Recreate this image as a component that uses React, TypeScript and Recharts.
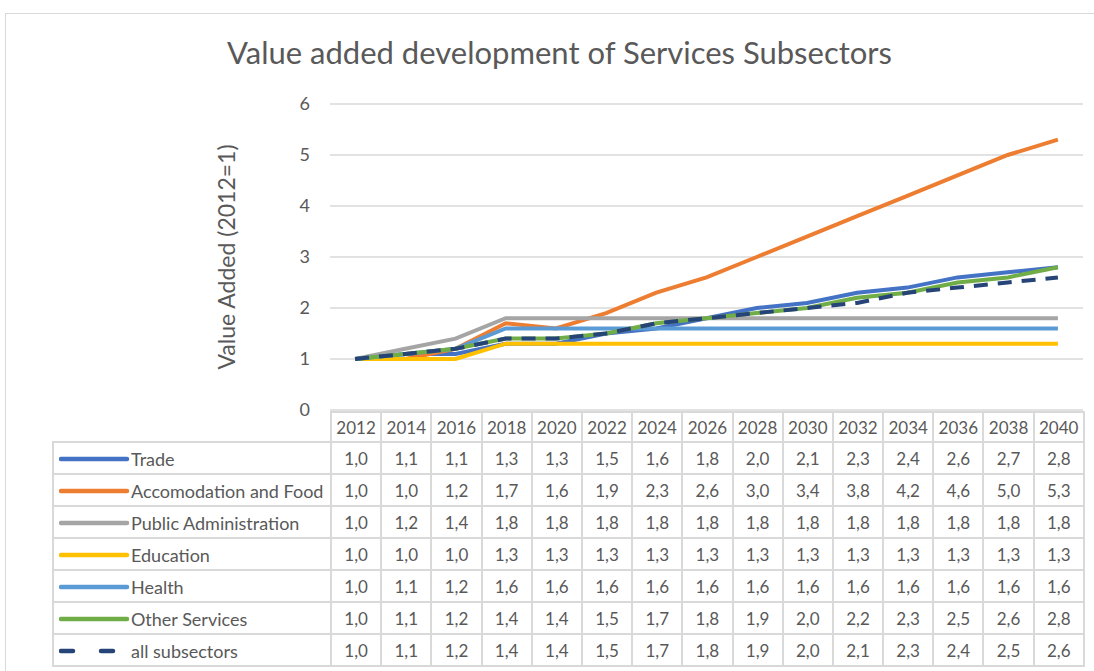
import React from 'react';
import { LineChart, Line, YAxis, XAxis, CartesianGrid } from 'recharts';

const years = ['2012','2014','2016','2018','2020','2022','2024','2026','2028','2030','2032','2034','2036','2038','2040'];
const trade = [1.0,1.1,1.1,1.3,1.3,1.5,1.6,1.8,2.0,2.1,2.3,2.4,2.6,2.7,2.8];
const accomodation = [1.0,1.0,1.2,1.7,1.6,1.9,2.3,2.6,3.0,3.4,3.8,4.2,4.6,5.0,5.3];
const publicAdmin = [1.0,1.2,1.4,1.8,1.8,1.8,1.8,1.8,1.8,1.8,1.8,1.8,1.8,1.8,1.8];
const education = [1.0,1.0,1.0,1.3,1.3,1.3,1.3,1.3,1.3,1.3,1.3,1.3,1.3,1.3,1.3];
const health = [1.0,1.1,1.2,1.6,1.6,1.6,1.6,1.6,1.6,1.6,1.6,1.6,1.6,1.6,1.6];
const otherServices = [1.0,1.1,1.2,1.4,1.4,1.5,1.7,1.8,1.9,2.0,2.2,2.3,2.5,2.6,2.8];
const allSubsectors = [1.0,1.1,1.2,1.4,1.4,1.5,1.7,1.8,1.9,2.0,2.1,2.3,2.4,2.5,2.6];
const yTicks = [0,1,2,3,4,5,6];

const series = [
  { key: 'trade', name: 'Trade', values: trade, color: '#4472C4', dash: undefined as string | undefined },
  { key: 'accom', name: 'Accomodation and Food', values: accomodation, color: '#ED7D31', dash: undefined },
  { key: 'public', name: 'Public Administration', values: publicAdmin, color: '#A5A5A5', dash: undefined },
  { key: 'edu', name: 'Education', values: education, color: '#FFC000', dash: undefined },
  { key: 'health', name: 'Health', values: health, color: '#5B9BD5', dash: undefined },
  { key: 'other', name: 'Other Services', values: otherServices, color: '#70AD47', dash: undefined },
  { key: 'all', name: 'all subsectors', values: allSubsectors, color: '#264478', dash: '14 10' },
];

const data = years.map((y, i) => {
  const row: Record<string, any> = { year: y };
  series.forEach((s) => { row[s.key] = s.values[i]; });
  return row;
});

const FONT = 'Lato, "Open Sans", sans-serif';
const TXT = '#595959';
const GRID = '#D9D9D9';
const fmt = (v: number) => v.toFixed(1).replace('.', ',');

const PLOT_LEFT = 330;
const PLOT_RIGHT = 1083;
const COL_W = (PLOT_RIGHT - PLOT_LEFT) / years.length;

export default function App() {
  return (
    <div style={{ position: 'fixed', left: 0, top: 0, width: 1094, height: 671, background: '#fff', overflow: 'hidden', fontFamily: FONT }}>
      <div style={{ position: 'absolute', left: 5, top: 13, width: 1200, height: 800, border: `1px solid ${GRID}` }} />
      <div style={{ position: 'absolute', left: 0, top: 34, width: 1119, textAlign: 'center', fontSize: 31, lineHeight: 1.2, color: TXT, whiteSpace: 'nowrap' }}>
        Value added development of Services Subsectors
      </div>
      <div style={{ position: 'absolute', left: 226, top: 257, transform: 'translate(-50%, -50%) rotate(-90deg)', whiteSpace: 'nowrap', fontSize: 23, color: TXT }}>
        Value Added (2012=1)
      </div>
      <div style={{ position: 'absolute', left: 0, top: 0 }}>
        <LineChart width={1094} height={430} data={data} margin={{ top: 104, right: 1094 - PLOT_RIGHT, bottom: 20, left: 300 }}>
          <CartesianGrid vertical={false} stroke={GRID} strokeWidth={1.5} />
          <XAxis dataKey="year" hide padding={{ left: COL_W / 2, right: COL_W / 2 }} />
          <YAxis width={30} domain={[0, 6]} ticks={yTicks} axisLine={false} tickLine={false} tickMargin={14}
            tick={{ fill: TXT, fontSize: 18, fontFamily: FONT }} />
          {series.map((s) => (
            <Line key={s.key} dataKey={s.key} name={s.name} type="linear" stroke={s.color} strokeWidth={4}
              strokeDasharray={s.dash} dot={false} isAnimationActive={false} />
          ))}
        </LineChart>
      </div>
      <table style={{ position: 'absolute', left: 52, top: 411, borderCollapse: 'collapse', tableLayout: 'fixed', width: 278 + COL_W * years.length, fontSize: 17, color: TXT }}>
        <colgroup>
          <col style={{ width: 278 }} />
          {years.map((y) => <col key={y} style={{ width: COL_W }} />)}
        </colgroup>
        <tbody>
          <tr style={{ height: 30 }}>
            <td style={{ border: 'none' }} />
            {years.map((y) => (
              <td key={y} style={{ border: `2px solid ${GRID}`, textAlign: 'center', padding: 0 }}>{y}</td>
            ))}
          </tr>
          {series.map((s) => (
            <tr key={s.key} style={{ height: 32 }}>
              <td style={{ border: `2px solid ${GRID}`, padding: 0, whiteSpace: 'nowrap', overflow: 'hidden' }}>
                <svg width={72} height={10} style={{ verticalAlign: 'middle', marginLeft: 5 }}>
                  <line x1={2} y1={5} x2={68} y2={5} stroke={s.color} strokeWidth={4.5} strokeLinecap="round"
                    strokeDasharray={s.dash ? '12 28' : undefined} />
                </svg>
                <span style={{ verticalAlign: 'middle', fontSize: 18 }}>{s.name}</span>
              </td>
              {s.values.map((v, i) => (
                <td key={i} style={{ border: `2px solid ${GRID}`, textAlign: 'center', padding: 0 }}>{fmt(v)}</td>
              ))}
            </tr>
          ))}
        </tbody>
      </table>
    </div>
  );
}
